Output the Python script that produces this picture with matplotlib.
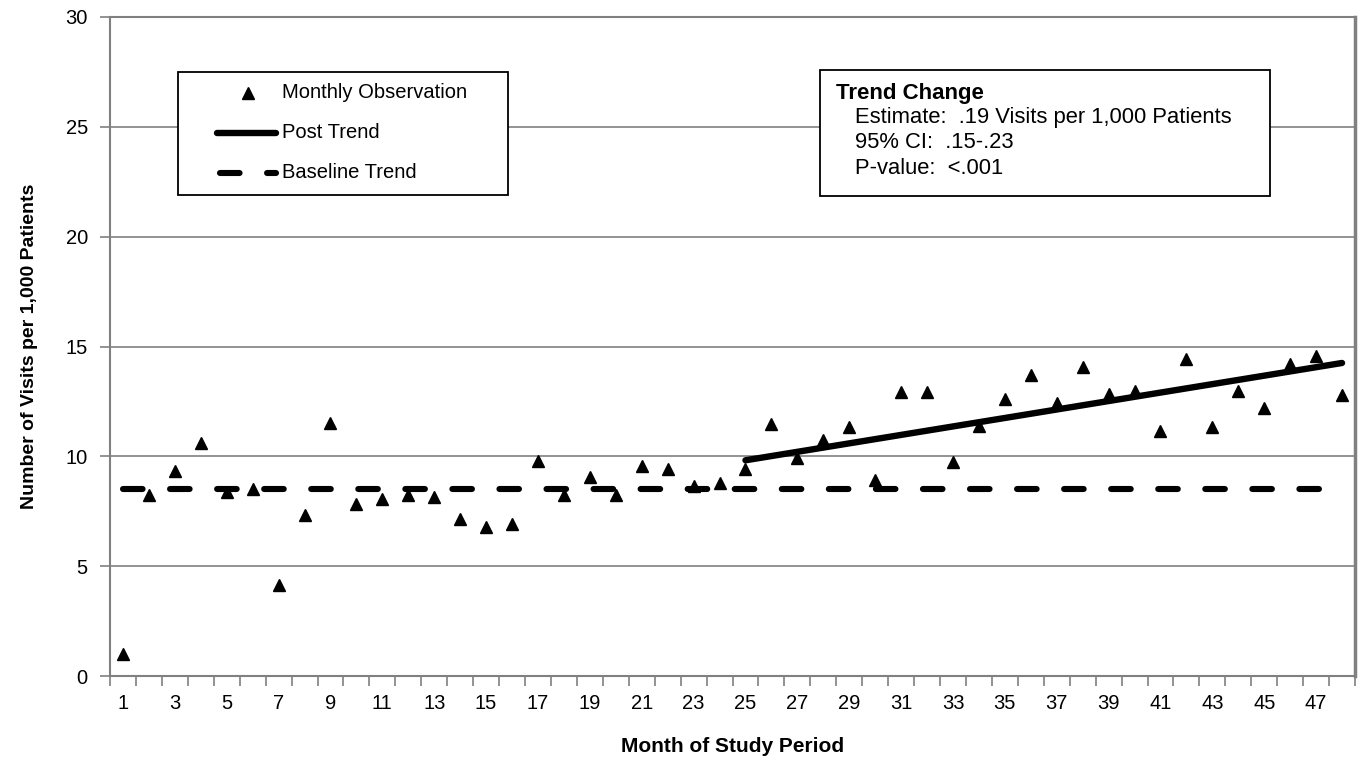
import matplotlib
matplotlib.use("Agg")
import matplotlib.pyplot as plt
from matplotlib.lines import Line2D
from matplotlib.patches import Rectangle

plt.rcParams['font.family'] = ['Liberation Sans', 'DejaVu Sans']

# datos
months = list(range(1, 49))
visits = [1.0, 8.26, 9.32, 10.62, 8.39, 8.5, 4.16, 7.31, 11.53, 7.83,
          8.06, 8.26, 8.13, 7.13, 6.77, 6.94, 9.8, 8.24, 9.04, 8.24,
          9.58, 9.43, 8.65, 8.77, 9.42, 11.46, 9.91, 10.74, 11.32, 8.92,
          12.95, 12.95, 9.74, 11.4, 12.61, 13.7, 12.41, 14.07, 12.84, 12.99,
          11.14, 14.43, 11.32, 12.99, 12.18, 14.22, 14.55, 12.79]
post_trend_x = [25, 48]
post_trend_y = [9.82, 14.25]
baseline_x = [1, 48]
baseline_y = [8.5, 8.5]
tick_labels = [str(m) if m % 2 == 1 else "" for m in months]

W, H = 1362, 764
fig = plt.figure(figsize=(W / 100, H / 100), dpi=100)
ax = fig.add_axes([110 / W, 1 - 676 / H, (1355 - 110) / W, (676 - 17) / H])

def fx(px):
    return px / W

def fy(py):
    return 1 - py / H

grey = "#808080"
dash = (3.2, 4.5)

ax.plot(baseline_x, baseline_y, color="black", lw=4.4, dashes=dash,
        dash_capstyle="round", zorder=3)
ax.plot(post_trend_x, post_trend_y, color="black", lw=4.6,
        solid_capstyle="round", zorder=4)
ax.plot(months, visits, linestyle="none", marker="^", ms=9.2,
        color="black", zorder=5)

ax.set_xlim(0.5, 48.5)
ax.set_ylim(0, 30)
ax.set_yticks(range(0, 31, 5))
ax.set_xticks(months)
ax.set_xticklabels(tick_labels)
ax.set_xticks([m + 0.5 for m in range(0, 49)], minor=True)
ax.tick_params(axis="x", which="major", length=0, pad=13, labelsize=14.5)
ax.tick_params(axis="x", which="minor", length=7, width=1.2, color=grey)
ax.tick_params(axis="y", length=7, width=1.2, color=grey, pad=9, labelsize=14.5)
ax.grid(axis="y", color=grey, lw=1.2)
ax.set_axisbelow(True)
for s in ax.spines.values():
    s.set_color(grey)
    s.set_linewidth(1.5)
ax.spines["right"].set_linewidth(2.5)

ax.set_xlabel("Month of Study Period", fontsize=15, fontweight="bold", labelpad=17)
ax.set_ylabel("Number of Visits per 1,000 Patients", fontsize=14,
              fontweight="bold", labelpad=20)

# leyenda dibujada a mano
fig.patches.append(Rectangle((fx(178), fy(195)), fx(508) - fx(178), fy(72) - fy(195),
                             transform=fig.transFigure, fill=True, facecolor="white",
                             edgecolor="black", lw=1.3, zorder=10))
fig.lines.append(Line2D([fx(248)], [fy(93)], marker="^", ms=9.2, color="black",
                        linestyle="none", transform=fig.transFigure, zorder=11))
fig.lines.append(Line2D([fx(217), fx(276)], [fy(133), fy(133)], color="black", lw=4.6,
                        solid_capstyle="round", transform=fig.transFigure, zorder=11))
fig.lines.append(Line2D([fx(220), fx(276)], [fy(173), fy(173)], color="black", lw=4.4,
                        dashes=dash, dash_capstyle="round",
                        transform=fig.transFigure, zorder=11))
for label, py in [("Monthly Observation", 93), ("Post Trend", 133), ("Baseline Trend", 173)]:
    fig.text(fx(282), fy(py), label, fontsize=14.5, va="center", ha="left", zorder=12)

# cuadro de estadisticas
fig.patches.append(Rectangle((fx(820), fy(196)), fx(1270) - fx(820), fy(70) - fy(196),
                             transform=fig.transFigure, fill=True, facecolor="white",
                             edgecolor="black", lw=1.3, zorder=10))
fig.text(fx(836), fy(93), "Trend Change", fontsize=16, fontweight="bold",
         va="center", ha="left", zorder=12)
stats = ["Estimate:  .19 Visits per 1,000 Patients", "95% CI:  .15-.23", "P-value:  <.001"]
for s, py in zip(stats, [118, 143, 169]):
    fig.text(fx(855), fy(py), s, fontsize=15.8, va="center", ha="left", zorder=12)

fig.savefig("out.png", dpi=100, facecolor="white")
